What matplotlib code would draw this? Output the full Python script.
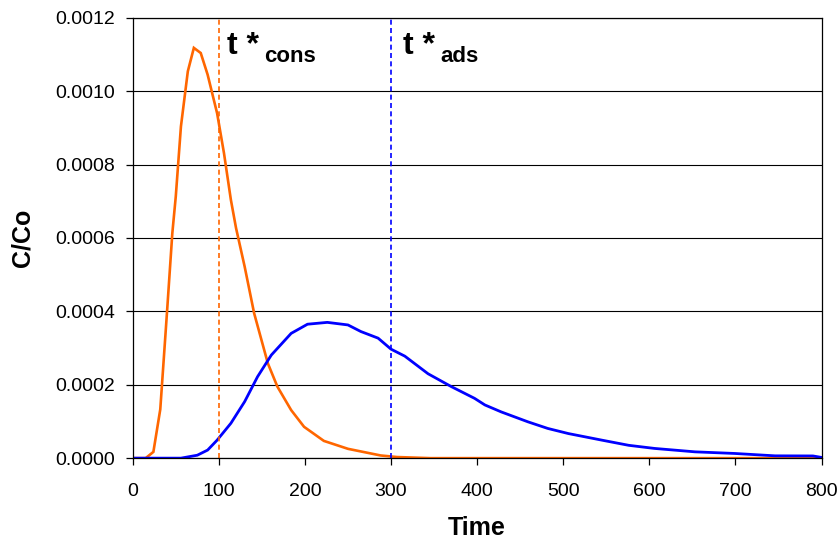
import matplotlib
matplotlib.use("Agg")
import matplotlib.pyplot as plt

plt.rcParams["font.family"] = ["Liberation Sans", "DejaVu Sans"]

# breakthrough curves: conservative tracer and adsorbing tracer
t_cons = [0, 15, 24, 32, 40, 46, 50, 56, 64, 71, 79, 87, 98, 106, 114, 120,
          130, 141, 157, 168, 184, 199, 222, 250, 288, 307, 346, 800]
c_cons = [0, 0, 0.000017, 0.000133, 0.000404, 0.000613, 0.000713, 0.000904,
          0.001054, 0.001118, 0.001104, 0.001045, 0.00094, 0.000831, 0.000704,
          0.000627, 0.000522, 0.000395, 0.000258, 0.000195, 0.000131,
          0.0000854, 0.000047, 0.0000254, 0.0000073, 0.000003, 0, 0]

t_ads = [0, 56, 75, 87, 98, 114, 130, 145, 161, 184, 203, 226, 250, 265, 285,
         300, 316, 343, 370, 397, 409, 428, 459, 482, 506, 545, 576, 606, 653,
         699, 746, 790, 800]
c_ads = [0, 0, 0.000008, 0.000022, 0.000049, 0.000095, 0.000154, 0.000222,
         0.000281, 0.00034, 0.000365, 0.00037, 0.000363, 0.000345, 0.000327,
         0.000297, 0.000278, 0.00023, 0.000195, 0.000163, 0.000145, 0.000126,
         0.000099, 0.000081, 0.000067, 0.000049, 0.000035, 0.0000265,
         0.0000172, 0.0000128, 0.0000063, 0.000006, 0.000002]

t_star_cons = 100
t_star_ads = 300

x_ticks = [0, 100, 200, 300, 400, 500, 600, 700, 800]
y_ticks = [0.0, 0.0002, 0.0004, 0.0006, 0.0008, 0.0010, 0.0012]

orange = "#FF6600"
blue = "#0000FF"

fig = plt.figure(figsize=(8.4, 5.39), dpi=100)
ax = fig.add_axes([0.158, 0.150, 0.820, 0.817])

ax.plot(t_cons, c_cons, color=orange, lw=1.9, solid_joinstyle="miter")
ax.plot(t_ads, c_ads, color=blue, lw=2.0)

ax.axvline(t_star_cons, color=orange, lw=1.2, ls=(0, (3, 2)))
ax.axvline(t_star_ads, color=blue, lw=1.2, ls=(0, (3, 2)))

ax.text(110, 0.0011, "t *", fontsize=23, fontweight="bold", va="baseline")
ax.text(152.5, 0.00108, "cons", fontsize=16, fontweight="bold", va="baseline")
ax.text(314, 0.0011, "t *", fontsize=23, fontweight="bold", va="baseline")
ax.text(357.5, 0.00108, "ads", fontsize=16, fontweight="bold", va="baseline")

ax.set_xlim(0, 800)
ax.set_ylim(0, 0.0012)
ax.set_xticks(x_ticks)
ax.set_yticks(y_ticks)
ax.set_yticklabels([f"{v:.4f}" for v in y_ticks])
ax.yaxis.grid(True, color="black", lw=0.8)
ax.set_axisbelow(True)

for s in ax.spines.values():
    s.set_linewidth(0.9)
    s.set_color("black")

ax.tick_params(axis="both", direction="out", length=5, width=0.9,
               labelsize=14)
ax.tick_params(axis="x", pad=13)
ax.tick_params(axis="y", pad=8)

ax.set_xlabel("Time", fontsize=18, fontweight="bold")
ax.set_ylabel("C/Co", fontsize=18, fontweight="bold")
ax.xaxis.set_label_coords(0.5, -0.131)
ax.yaxis.set_label_coords(-0.143, 0.5)

fig.savefig("out.png", dpi=100)
